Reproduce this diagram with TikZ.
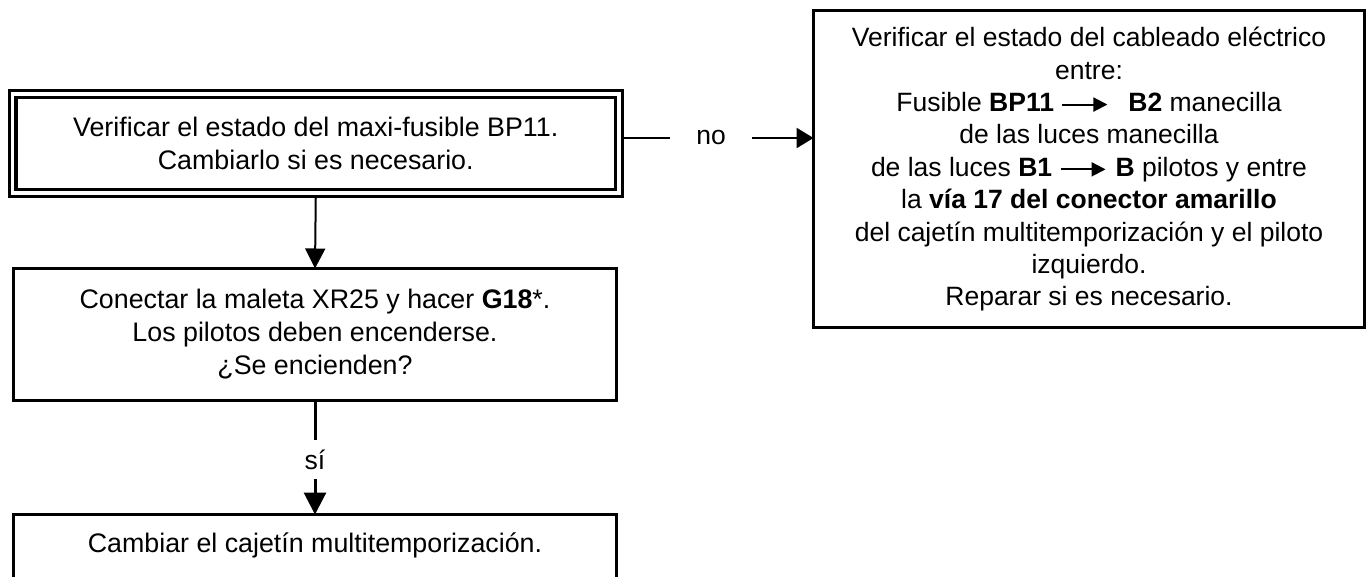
\documentclass[tikz,border=0pt]{standalone}
\usepackage{fontspec}
\setmainfont{Liberation Sans}
\usetikzlibrary{arrows.meta}
\newcommand{\inarr}{\tikz[baseline=0pt,x=1pt,y=1pt]\draw[line width=2pt,-{Triangle[length=14pt,width=14pt]}] (0,6.9) -- (45,6.9);}
\begin{document}
\begin{tikzpicture}[x=1pt,y=-1pt,
  box/.style={draw,line width=3pt,outer sep=0pt,inner sep=0pt,align=center,
    font=\fontsize{26.8}{33}\selectfont},
  dbox/.style={box,double,double distance=3.6pt,line width=3.2pt,outer sep=5pt},
  lbl/.style={fill=white,font=\fontsize{26.5}{32.5}\selectfont},
  conn/.style={draw,-{Triangle[length=20pt,width=20pt]}}]
\useasboundingbox (0,0) rectangle (1368,577);
\node[dbox,minimum width=606.5pt,minimum height=99pt] (b1) at (315.75,143.5)
  {Verificar el estado del maxi-fusible BP11.\\Cambiarlo si es necesario.};
\node[box,minimum width=603pt,minimum height=132pt] (b2) at (315,334.5)
  {Conectar la maleta XR25 y hacer \textbf{G18}*.\\Los pilotos deben encenderse.\\¿Se encienden?};
\node[box,anchor=north,minimum width=603pt,text height=37.5pt,text depth=80pt] (b3) at (315,514.5)
  {Cambiar el cajetín multitemporización.};
\node[box,minimum width=551pt,minimum height=316.5pt,font=\fontsize{26.5}{32.4}\selectfont] (rb) at (1089,169.25)
  {Verificar el estado del cableado eléctrico\\
   entre:\\
   Fusible \textbf{BP11} \inarr\hspace{20pt}\textbf{B2} manecilla\\
   de las luces manecilla\\
   de las luces \textbf{B1} \inarr\hspace{9pt}\textbf{B} pilotos y entre\\
   la \textbf{vía 17 del conector amarillo}\\
   del cajetín multitemporización y el piloto\\
   izquierdo.\\
   Reparar si es necesario.};
\draw[conn,line width=2pt] (b1.south) -- (b2.north);
\draw[conn,line width=2.5pt,-{Triangle[length=17pt,width=20pt]}]
  ([yshift=5.5pt]b1.east) -- node[lbl,pos=0.46,inner xsep=26pt] (no) {no} ([yshift=5.5pt]b1.east -| rb.west);
\draw[conn,line width=3pt,-{Triangle[length=22pt,width=22pt]}]
  (b2.south) -- node[lbl,pos=0.5,inner ysep=10pt,inner xsep=4pt,yshift=-2pt] (si) {sí} (b3.north);
\end{tikzpicture}
\end{document}
